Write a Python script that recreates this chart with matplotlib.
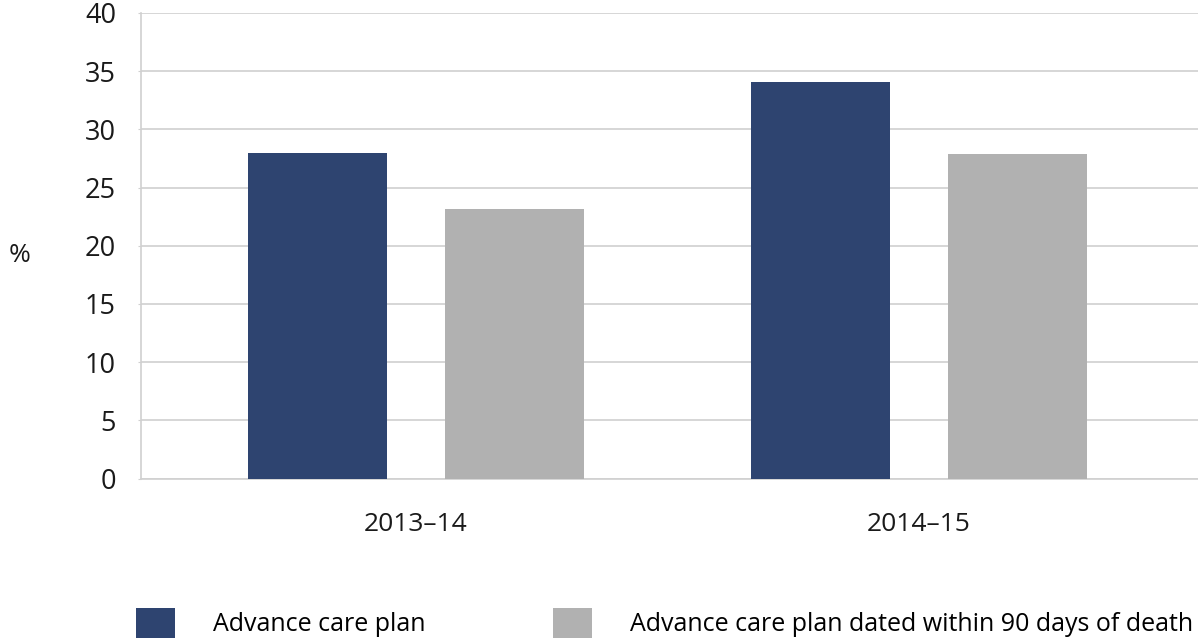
import matplotlib
matplotlib.use("Agg")
import matplotlib.pyplot as plt
import numpy as np

plt.rcParams['font.family'] = ['Open Sans', 'DejaVu Sans']

years = ['2013–14', '2014–15']
acp = [28.0, 34.1]
acp_90 = [23.2, 27.9]
series_names = ['Advance care plan', 'Advance care plan dated within 90 days of death']
colors = ['#2e4470', '#b1b1b1']

fig = plt.figure(figsize=(11.98, 6.43), dpi=100)
ax = fig.add_axes([0.1177, 0.2558, 0.8823, 0.724])

x = np.arange(len(years))
w = 0.276
off = 0.196
b1 = ax.bar(x - off, acp, w, color=colors[0], label=series_names[0], zorder=3)
b2 = ax.bar(x + off, acp_90, w, color=colors[1], label=series_names[1], zorder=3)

ax.set_ylim(0, 40)
ax.set_yticks(range(0, 41, 5))
ax.set_xlim(-0.547, 1.555)
ax.set_xticks(x)
ax.set_xticklabels(years)
ax.grid(axis='y', color='#d0d0d0', linewidth=1.2, zorder=0)
for s in ['top', 'right']:
    ax.spines[s].set_visible(False)
for s in ['left', 'bottom']:
    ax.spines[s].set_color('#d0d0d0')
    ax.spines[s].set_linewidth(1.2)
ax.tick_params(axis='y', length=2, color='#d0d0d0', labelsize=19.5, pad=16, labelcolor='#1a1a1a')
ax.tick_params(axis='x', length=0, labelsize=19, pad=24, labelcolor='#1a1a1a')

fig.text(20 / 1198, 1 - 255 / 643, '%', fontsize=19, ha='center', va='center', color='#1a1a1a')

fig.legend(handles=[b1, b2], loc='center left', bbox_to_anchor=(136 / 1198, 1 - 623 / 643),
           ncol=2, frameon=False, fontsize=18, borderpad=0, borderaxespad=0,
           handlelength=1.56, handleheight=1.44, handletextpad=1.52, columnspacing=5.1)

fig.savefig('out.png', dpi=100)
